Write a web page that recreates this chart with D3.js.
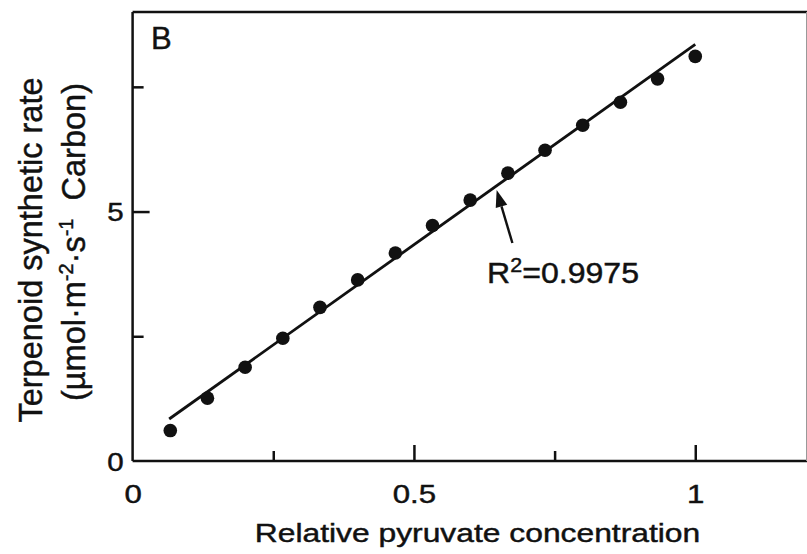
<!DOCTYPE html>
<html>
<head>
<meta charset="utf-8">
<script src="https://cdn.jsdelivr.net/npm/d3@7"></script>
<style>
  html, body { margin: 0; padding: 0; background: #fff; }
  svg { display: block; font-family: "Liberation Sans", Arial, sans-serif; }
  svg text { stroke: #111; stroke-width: 0.45px; }
</style>
</head>
<body>
<svg id="chart" width="807" height="554"></svg>
<script>
// Relative pyruvate concentration (x) and terpenoid synthetic rate (y)
const pyruvate = [0.067, 0.133, 0.2, 0.267, 0.333, 0.4, 0.467, 0.533, 0.6, 0.667, 0.733, 0.8, 0.867, 0.933, 1.0];
const terpenoidRate = [0.61, 1.26, 1.88, 2.46, 3.08, 3.63, 4.17, 4.72, 5.23, 5.77, 6.23, 6.73, 7.19, 7.66, 8.11];

// Fitted line
const fitIntercept = 0.32;
const fitSlope = 8.03;
const fitRange = [0.065, 1.0];
const fitLabel = "0.9975";

// Axis ticks
const xMajorTicks = [0, 0.5, 1];
const xMinorTicks = [0.25, 0.75];
const yMajorTicks = [0, 5];
const yMinorTicks = [2.5, 7.5];
const xDomain = [0, 1.2];
const yDomain = [0, 9];

const panelLetter = "B";
const xTitle = "Relative pyruvate concentration";

const W = 807, H = 554;
const svg = d3.select("#chart");

const x = d3.scaleLinear().domain(xDomain).range([132.6, 807.8]);
const y = d3.scaleLinear().domain(yDomain).range([461, 12]);

const ink = "#111";
const textStretch = 1.2;

// Major x ticks (inward) with labels
const gx = svg.append("g").attr("transform", `translate(0,${y(0)})`)
  .call(d3.axisBottom(x).tickValues(xMajorTicks).tickSize(-16).tickPadding(42)
    .tickFormat(d => d3.format("")(d)));
gx.select(".domain").remove();
gx.selectAll(".tick line").attr("stroke", ink).attr("stroke-width", 2.5)
  .filter(d => d === 0).remove();
gx.selectAll(".tick text").attr("fill", ink).attr("font-size", 26)
  .attr("y", 42).attr("dy", 0)
  .attr("transform", `scale(${textStretch},1)`);

// Minor x ticks
const gxm = svg.append("g").attr("transform", `translate(0,${y(0)})`)
  .call(d3.axisBottom(x).tickValues(xMinorTicks).tickSize(-10).tickFormat(""));
gxm.select(".domain").remove();
gxm.selectAll(".tick line").attr("stroke", ink).attr("stroke-width", 2.5);

// Major y ticks (inward) with labels
const gy = svg.append("g").attr("transform", `translate(${x(0)},0)`)
  .call(d3.axisLeft(y).tickValues(yMajorTicks).tickSize(-17).tickPadding(9)
    .tickFormat(d => d3.format("")(d)));
gy.select(".domain").remove();
gy.selectAll(".tick line").attr("stroke", ink).attr("stroke-width", 2.5)
  .filter(d => d === 0).remove();
gy.selectAll(".tick text").attr("fill", ink).attr("font-size", 25)
  .attr("x", -9 / 1.18).attr("dy", "0.36em")
  .attr("transform", "scale(1.18,1)");

// Minor y ticks
const gym = svg.append("g").attr("transform", `translate(${x(0)},0)`)
  .call(d3.axisLeft(y).tickValues(yMinorTicks).tickSize(-11).tickFormat(""));
gym.select(".domain").remove();
gym.selectAll(".tick line").attr("stroke", ink).attr("stroke-width", 2.5);

// Frame: heavy left, top and bottom edges, light right edge
const x0 = x(xDomain[0]), x1 = Math.min(x(xDomain[1]), W - 0.5);
const yT = y(yDomain[1]), yB = y(yDomain[0]);
svg.append("line").attr("x1", x0).attr("x2", x0).attr("y1", yT).attr("y2", yB)
  .attr("stroke", ink).attr("stroke-width", 2.5);
svg.append("line").attr("x1", x0).attr("x2", W).attr("y1", yT).attr("y2", yT)
  .attr("stroke", ink).attr("stroke-width", 2.5);
svg.append("line").attr("x1", x0).attr("x2", W).attr("y1", yB).attr("y2", yB)
  .attr("stroke", ink).attr("stroke-width", 2.5);
svg.append("line").attr("x1", x1).attr("x2", x1).attr("y1", yT).attr("y2", yB)
  .attr("stroke", "#999").attr("stroke-width", 1);

// Fitted line
const fitPts = fitRange.map(v => [v, fitIntercept + fitSlope * v]);
svg.append("path")
  .attr("d", d3.line().x(d => x(d[0])).y(d => y(d[1]))(fitPts))
  .attr("stroke", ink).attr("stroke-width", 2.8).attr("fill", "none");

// Data points
svg.append("g").selectAll("circle")
  .data(pyruvate.map((v, i) => [v, terpenoidRate[i]]))
  .join("circle")
  .attr("cx", d => x(d[0])).attr("cy", d => y(d[1])).attr("r", 6.8)
  .attr("fill", ink);

// Arrow pointing at the line, with the R² note
const arrowFrom = [0.675, 4.37], arrowTo = [0.647, 5.43];
const ax1 = x(arrowFrom[0]), ay1 = y(arrowFrom[1]);
const ax2 = x(arrowTo[0]), ay2 = y(arrowTo[1]);
const ang = Math.atan2(ay2 - ay1, ax2 - ax1);
const headLen = 17, headHalf = 6;
const bx = ax2 - headLen * Math.cos(ang), by = ay2 - headLen * Math.sin(ang);
svg.append("line").attr("x1", ax1).attr("y1", ay1).attr("x2", bx).attr("y2", by)
  .attr("stroke", ink).attr("stroke-width", 2.4);
svg.append("path")
  .attr("d", `M${ax2},${ay2}L${bx + headHalf * Math.sin(ang)},${by - headHalf * Math.cos(ang)}L${bx - headHalf * Math.sin(ang)},${by + headHalf * Math.cos(ang)}Z`)
  .attr("fill", ink);

const note = svg.append("text")
  .attr("transform", `translate(${x(0.63)},${y(3.56)}) scale(1.07,1)`)
  .attr("font-size", 30).attr("fill", ink);
note.append("tspan").text("R");
note.append("tspan").attr("font-size", 20).attr("dy", -11).text("2");
note.append("tspan").attr("dy", 11).text("=" + fitLabel);

// Panel letter
svg.append("text").attr("x", 151).attr("y", 49).attr("font-size", 31)
  .attr("fill", ink).text(panelLetter);

// X axis title
svg.append("text")
  .attr("transform", `translate(${(255 + 700) / 2},542) scale(${textStretch},1)`)
  .attr("text-anchor", "middle").attr("font-size", 26.5).attr("fill", ink)
  .text(xTitle);

// Y axis title (two lines)
svg.append("text")
  .attr("transform", "translate(42,250) rotate(-90)")
  .attr("text-anchor", "middle").attr("font-size", 32.5).attr("fill", ink)
  .text("Terpenoid synthetic rate");
const yt2 = svg.append("text")
  .attr("transform", "translate(85,242) rotate(-90)")
  .attr("text-anchor", "middle").attr("font-size", 32.5).attr("fill", ink);
yt2.append("tspan").text("(µmol·m");
yt2.append("tspan").attr("font-size", 20).attr("dy", -12).text("-2");
yt2.append("tspan").attr("dy", 12).text("·s");
yt2.append("tspan").attr("font-size", 20).attr("dy", -12).text("-1");
yt2.append("tspan").attr("dy", 12).text("\u00a0 Carbon)");
</script>
</body>
</html>
